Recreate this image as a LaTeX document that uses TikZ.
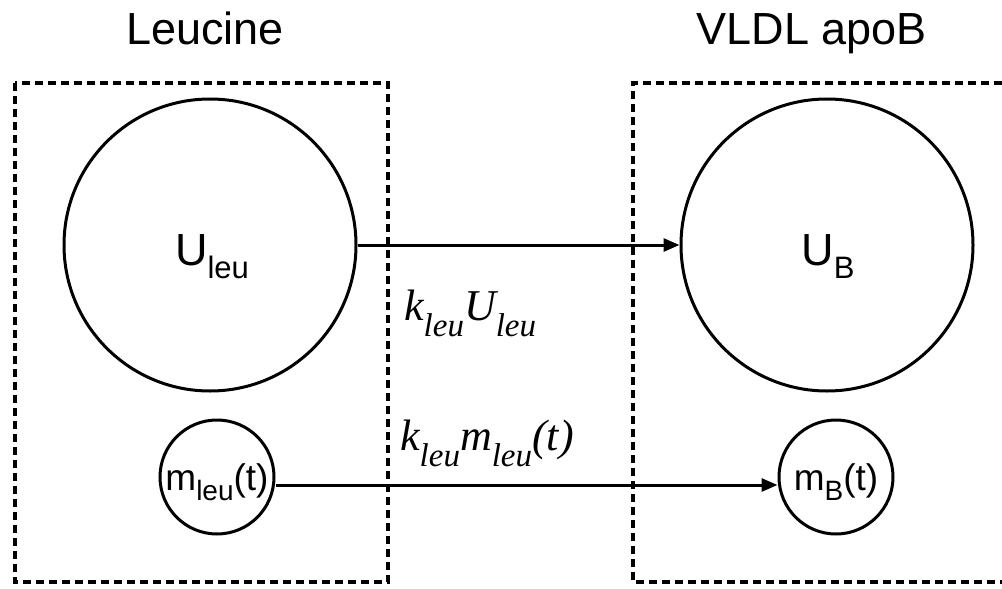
\documentclass[tikz,border=0pt]{standalone}
\usepackage{fontspec}
\setmainfont{Liberation Sans}
\newfontfamily\tnr{Liberation Serif}
\usetikzlibrary{arrows.meta}
\newcommand{\fsz}[1]{\fontsize{#1}{#1}\selectfont}
\begin{document}
\begin{tikzpicture}[x=1pt,y=-1pt,
  box/.style={line width=3.5pt, dash pattern=on 8pt off 5pt},
  pool/.style={draw, circle, line width=3pt, inner sep=0pt},
  flow/.style={line width=3pt, -{Triangle[length=16pt,width=13pt]}},
  txt/.style={anchor=base, inner sep=0pt},
  mtxt/.style={anchor=base west, inner sep=0pt}]
\useasboundingbox (0,0) rectangle (1002,589);
% compartments
\draw[box] (15,83) rectangle (388,582);
\draw[box] (1002,83) -- (633,83) -- (633,582) -- (1002,582);
\node[txt] (tleu) at (205,45) {\fsz{45}Leucine};
\node[txt] (tvldl) at (812,45) {\fsz{45}VLDL apoB};
% pools
\node[pool, minimum size=292pt] (Uleu) at (210,245) {};
\node[pool, minimum size=292pt] (UB) at (827,245) {};
\node[pool, minimum size=114pt] (mleu) at (217,477) {};
\node[pool, minimum size=114pt] (mB) at (836,477) {};
\node[txt] (lUleu) at (212,265) {\fsz{45}U\raisebox{-13pt}{\fsz{31}leu}};
\node[txt] (lUB) at (828,265) {\fsz{45}U\raisebox{-13pt}{\fsz{31}B}};
\node[txt] (lmleu) at (217,490) {\fsz{37}m\raisebox{-10pt}{\fsz{28}leu}(t)};
\node[txt] (lmB) at (836,490) {\fsz{37}m\raisebox{-10pt}{\fsz{28}B}(t)};
% flows
\draw[flow] (Uleu.east) -- (UB.west);
\draw[flow] ([yshift=-8pt]mleu.east) -- ([yshift=-8pt]mB.west);
\node[mtxt] (f1) at (404,320) {\tnr\itshape\fsz{44}k\raisebox{-16pt}{\fsz{33}leu}U\raisebox{-16pt}{\fsz{33}leu}};
\node[mtxt] (f2) at (400,450) {\tnr\itshape\fsz{44}k\raisebox{-16pt}{\fsz{33}leu}m\raisebox{-16pt}{\fsz{33}leu}(t)};
\end{tikzpicture}
\end{document}
